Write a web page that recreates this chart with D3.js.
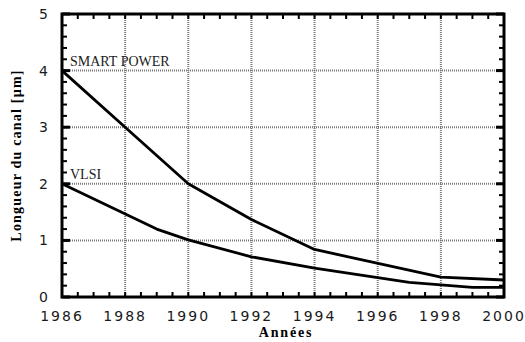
<!DOCTYPE html>
<html>
<head>
<meta charset="utf-8">
<script src="https://cdn.jsdelivr.net/npm/d3@7"></script>
<style>
  html, body { margin: 0; padding: 0; background: #fff; }
  svg { display: block; }
</style>
</head>
<body>
<svg id="chart" width="525" height="342"></svg>
<script>
// Channel length of MOS transistors over the years
const smartPowerYears = [1986, 1988, 1990, 1992, 1994, 1998, 2000];
const smartPowerValues = [4.0, 3.0, 2.0, 1.37, 0.84, 0.35, 0.30];
const vlsiYears = [1986, 1989, 1990, 1992, 1994, 1997, 1999, 2000];
const vlsiValues = [2.0, 1.2, 1.01, 0.71, 0.51, 0.26, 0.17, 0.17];
const xTickLabels = [1986, 1988, 1990, 1992, 1994, 1996, 1998, 2000];
const yTickLabels = [0, 1, 2, 3, 4, 5];
const seriesLabels = ["SMART POWER", "VLSI"];

const svg = d3.select("#chart");
const plotLeft = 62, plotRight = 504, plotTop = 14, plotBottom = 297;

const x = d3.scaleLinear().domain([1986, 2000]).range([plotLeft, plotRight]);
const y = d3.scaleLinear().domain([0, 5]).range([plotBottom, plotTop]);

// dotted grid at major ticks
const grid = svg.append("g")
  .attr("stroke", "#7a7a7a").attr("stroke-width", 2).attr("stroke-dasharray", "1,1");
grid.selectAll("line.gx").data(xTickLabels.slice(1, -1)).join("line")
  .attr("class", "gx")
  .attr("x1", d => x(d)).attr("x2", d => x(d)).attr("y1", plotTop).attr("y2", plotBottom);
grid.selectAll("line.gy").data(yTickLabels.slice(1, -1)).join("line")
  .attr("class", "gy")
  .attr("y1", d => y(d)).attr("y2", d => y(d)).attr("x1", plotLeft).attr("x2", plotRight);

// minor ticks pointing inward on all four sides
const xMinor = d3.range(1986, 2000.01, 0.5);
const yMinor = d3.range(0, 5.01, 0.2);
const tickLen = 5;
const ticks = svg.append("g").attr("stroke", "#000").attr("stroke-width", 2);
ticks.selectAll("line.xb").data(xMinor).join("line").attr("class", "xb")
  .attr("x1", d => x(d)).attr("x2", d => x(d)).attr("y1", plotBottom).attr("y2", plotBottom - tickLen);
ticks.selectAll("line.xt").data(xMinor).join("line").attr("class", "xt")
  .attr("x1", d => x(d)).attr("x2", d => x(d)).attr("y1", plotTop).attr("y2", plotTop + tickLen);
ticks.selectAll("line.yl").data(yMinor).join("line").attr("class", "yl")
  .attr("y1", d => y(d)).attr("y2", d => y(d)).attr("x1", plotLeft).attr("x2", plotLeft + tickLen);
ticks.selectAll("line.yr").data(yMinor).join("line").attr("class", "yr")
  .attr("y1", d => y(d)).attr("y2", d => y(d)).attr("x1", plotRight).attr("x2", plotRight - tickLen);
// slightly heavier major ticks
ticks.selectAll("line.yl2").data(yTickLabels).join("line").attr("class", "yl2")
  .attr("y1", d => y(d)).attr("y2", d => y(d)).attr("x1", plotLeft).attr("x2", plotLeft + 8).attr("stroke-width", 3);
ticks.selectAll("line.yr2").data(yTickLabels).join("line").attr("class", "yr2")
  .attr("y1", d => y(d)).attr("y2", d => y(d)).attr("x1", plotRight).attr("x2", plotRight - 8).attr("stroke-width", 3);

// frame
svg.append("rect")
  .attr("x", plotLeft).attr("y", plotTop)
  .attr("width", plotRight - plotLeft).attr("height", plotBottom - plotTop)
  .attr("fill", "none").attr("stroke", "#000").attr("stroke-width", 3);

// series
const line = d3.line().x(d => x(d[0])).y(d => y(d[1]));
const series = [
  d3.zip(smartPowerYears, smartPowerValues),
  d3.zip(vlsiYears, vlsiValues)
];
svg.append("g").selectAll("path").data(series).join("path")
  .attr("d", line).attr("fill", "none").attr("stroke", "#000")
  .attr("stroke-width", 2.8).attr("stroke-linejoin", "round");

// series labels
svg.append("g").selectAll("text").data(seriesLabels).join("text")
  .attr("x", plotLeft + 8)
  .attr("y", (d, i) => y(series[i][0][1]) - 5)
  .attr("font-family", "'Liberation Serif', 'Times New Roman', serif")
  .attr("font-size", 14).attr("fill", "#222")
  .text(d => d);

// tick labels
svg.append("g").selectAll("text").data(xTickLabels).join("text")
  .attr("x", d => x(d)).attr("y", 321)
  .attr("text-anchor", "middle")
  .attr("font-family", "'DejaVu Sans', Verdana, sans-serif")
  .attr("font-size", 14).attr("letter-spacing", 2).attr("fill", "#1a1a1a")
  .text(d => d);
svg.append("g").selectAll("text").data(yTickLabels).join("text")
  .attr("x", 48).attr("y", d => y(d) + 5)
  .attr("text-anchor", "end")
  .attr("font-family", "'DejaVu Sans', Verdana, sans-serif")
  .attr("font-size", 14).attr("fill", "#1a1a1a")
  .text(d => d);

// axis titles
svg.append("text")
  .attr("x", (plotLeft + plotRight) / 2 + 3).attr("y", 337)
  .attr("text-anchor", "middle")
  .attr("font-family", "'Liberation Serif', 'Times New Roman', serif")
  .attr("font-weight", "bold").attr("font-size", 14).attr("letter-spacing", 1.8)
  .text("Années");
svg.append("text")
  .attr("transform", `translate(21,${(plotTop + plotBottom) / 2}) rotate(-90)`)
  .attr("text-anchor", "middle")
  .attr("font-family", "'Liberation Serif', 'Times New Roman', serif")
  .attr("font-weight", "bold").attr("font-size", 14).attr("letter-spacing", 1.2)
  .text("Longueur du canal [µm]");
</script>
</body>
</html>
